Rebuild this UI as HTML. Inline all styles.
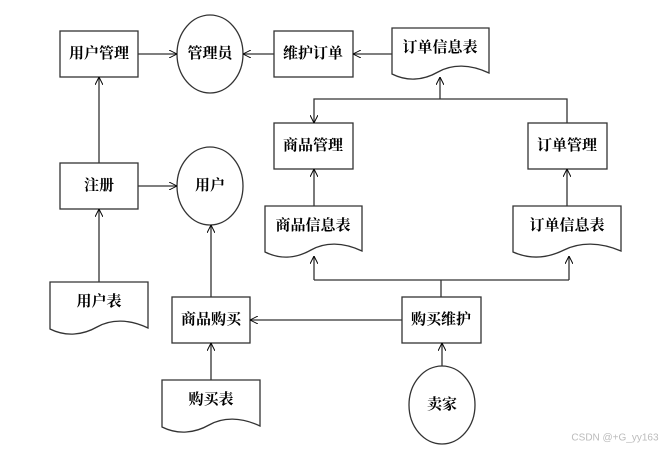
<!DOCTYPE html>
<html><head><meta charset="utf-8"><style>
html,body{margin:0;padding:0;background:#fff}
text{font-family:"Liberation Serif","Noto Serif CJK SC",serif;font-weight:bold;font-size:15px;text-anchor:middle;dominant-baseline:central;fill:#000}
</style></head><body>
<svg width="671" height="451" viewBox="0 0 671 451" xmlns="http://www.w3.org/2000/svg">
<defs>
<marker id="a" viewBox="0 0 10 10" refX="10" refY="5" markerWidth="8" markerHeight="8" orient="auto" markerUnits="userSpaceOnUse">
<path d="M0,0 L10,5 L0,10" fill="none" stroke="#000" stroke-width="1.2"/>
</marker>
</defs>
<g fill="none" stroke="#333" stroke-width="1.3">
<!-- boxes -->
<rect x="60" y="31" width="78" height="46"/>
<rect x="274" y="31" width="79" height="46"/>
<rect x="274" y="123" width="79" height="46"/>
<rect x="528" y="123" width="79" height="46"/>
<rect x="60" y="163" width="78" height="46"/>
<rect x="172" y="297" width="78" height="46"/>
<rect x="402" y="297" width="79" height="46"/>
<!-- ellipses -->
<ellipse cx="210" cy="54" rx="33" ry="39"/>
<ellipse cx="210" cy="186" rx="33" ry="39"/>
<ellipse cx="442" cy="405" rx="33" ry="39"/>
<!-- documents -->
<path d="M392,28 H489 V73 C470,64 452,64 438,72 C424,80 408,82 392,74 Z"/>
<path d="M265,206 H362 V251 C343,242 325,242 311,250 C297,258 281,260 265,252 Z"/>
<path d="M513,206 H621 V251 C600,242 580,242 564,250 C548,258 531,260 513,252 Z"/>
<path d="M50,282 H148 V328 C129,319 111,319 97,327 C83,335 66,337 50,329 Z"/>
<path d="M162,380 H260 V426 C241,417 223,417 209,425 C195,433 178,435 162,427 Z"/>
<!-- connectors -->
<line x1="138" y1="54" x2="177" y2="54" marker-end="url(#a)"/>
<line x1="274" y1="54" x2="243" y2="54" marker-end="url(#a)"/>
<line x1="392" y1="54" x2="353" y2="54" marker-end="url(#a)"/>
<line x1="99" y1="163" x2="99" y2="77" marker-end="url(#a)"/>
<line x1="138" y1="186" x2="177" y2="186" marker-end="url(#a)"/>
<line x1="440" y1="99" x2="440" y2="77" marker-end="url(#a)"/>
<polyline points="567,123 567,99 314,99 314,123" marker-end="url(#a)"/>
<line x1="314" y1="206" x2="314" y2="169" marker-end="url(#a)"/>
<line x1="567" y1="206" x2="567" y2="169" marker-end="url(#a)"/>
<line x1="441" y1="297" x2="441" y2="280"/>
<polyline points="314,280 314,256" marker-end="url(#a)" />
<line x1="314" y1="280" x2="569" y2="280"/>
<line x1="569" y1="280" x2="569" y2="256" marker-end="url(#a)"/>
<line x1="99" y1="282" x2="99" y2="209" marker-end="url(#a)"/>
<line x1="211" y1="297" x2="211" y2="225" marker-end="url(#a)"/>
<line x1="402" y1="320" x2="250" y2="320" marker-end="url(#a)"/>
<line x1="211" y1="380" x2="211" y2="343" marker-end="url(#a)"/>
<line x1="442" y1="366" x2="442" y2="343" marker-end="url(#a)"/>
</g>
<text x="99" y="54">用户管理</text>
<text x="210" y="54">管理员</text>
<text x="313" y="54">维护订单</text>
<text x="440" y="48">订单信息表</text>
<text x="313" y="146">商品管理</text>
<text x="567" y="146">订单管理</text>
<text x="99" y="186">注册</text>
<text x="210" y="186">用户</text>
<text x="313" y="226">商品信息表</text>
<text x="567" y="226">订单信息表</text>
<text x="99" y="302">用户表</text>
<text x="211" y="320">商品购买</text>
<text x="441" y="320">购买维护</text>
<text x="211" y="400">购买表</text>
<text x="442" y="405">卖家</text>
<text x="615" y="438" style="font-family:'Liberation Sans',sans-serif;font-weight:normal;font-size:10px;fill:#bbb">CSDN @+G_yy163</text>
</svg>
</body></html>
